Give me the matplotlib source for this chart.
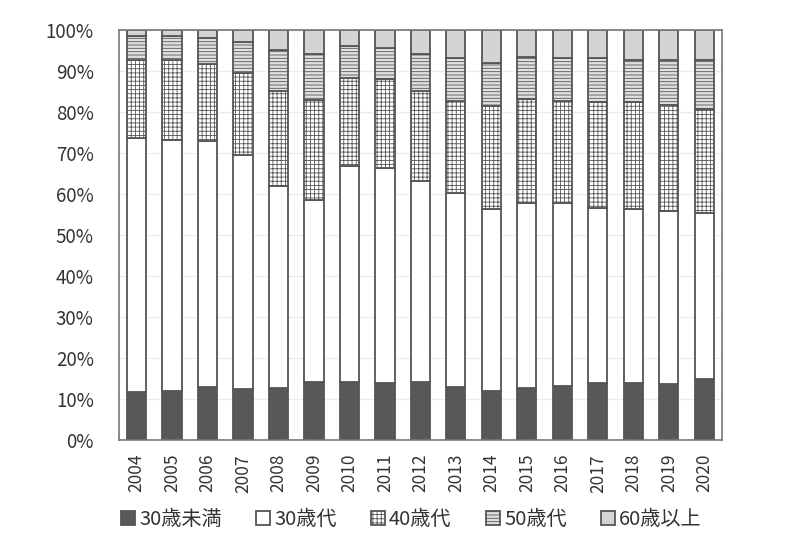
import matplotlib
matplotlib.use('Agg')
import numpy as np
import matplotlib.pyplot as plt
from matplotlib.ticker import PercentFormatter

plt.rcParams['font.family'] = ['Noto Sans CJK JP', 'DejaVu Sans']
plt.rcParams['hatch.linewidth'] = 0.6
plt.rcParams['hatch.color'] = '#8a8a8a'

# années et parts par tranche d'âge (%)
years = ['2004', '2005', '2006', '2007', '2008', '2009', '2010', '2011', '2012',
         '2013', '2014', '2015', '2016', '2017', '2018', '2019', '2020']
under30 = [11.8, 12.0, 13.0, 12.4, 12.8, 14.1, 14.2, 13.9, 14.1, 13.0, 12.0, 12.6, 13.3, 13.9, 13.9, 13.8, 15.0]
age30s = [62.0, 61.2, 60.0, 57.1, 49.2, 44.4, 52.7, 52.4, 49.2, 47.3, 44.4, 45.3, 44.6, 42.8, 42.5, 42.0, 40.3]
age40s = [18.9, 19.5, 18.7, 20.1, 23.1, 24.4, 21.5, 21.7, 21.9, 22.4, 25.2, 25.4, 24.9, 25.7, 26.0, 25.9, 25.4]
age50s = [5.8, 5.8, 6.3, 7.6, 10.0, 11.2, 7.8, 7.7, 8.9, 10.6, 10.5, 10.2, 10.5, 10.9, 10.4, 11.1, 12.0]
over60 = [1.5, 1.5, 2.0, 2.8, 4.9, 5.9, 3.8, 4.3, 5.9, 6.7, 7.9, 6.5, 6.7, 6.7, 7.2, 7.2, 7.3]
labels = ['30歳未満', '30歳代', '40歳代', '50歳代', '60歳以上']

series = [under30, age30s, age40s, age50s, over60]
colors = ['#585858', 'white', 'white', '#e0e0e0', '#d4d4d4']
hatches = [None, None, '++++', '-----', None]

fig = plt.figure(figsize=(7.97, 5.40), dpi=100)
ax = fig.add_axes([0.149, 0.185, 0.757, 0.759])

x = np.arange(len(years))
bottom = np.zeros(len(years))
for vals, c, h, lab in zip(series, colors, hatches, labels):
    ax.bar(x, vals, width=0.54, bottom=bottom, color=c, edgecolor='#555555',
           linewidth=1.3, hatch=h, label=lab, zorder=2)
    bottom += np.array(vals)

ax.set_ylim(0, 100)
ax.set_xlim(-0.5, len(years) - 0.5)
ax.set_yticks(np.arange(0, 101, 10))
ax.yaxis.set_major_formatter(PercentFormatter(decimals=0))
ax.set_xticks(x)
ax.set_xticklabels(years, rotation=90)
ax.tick_params(length=0, colors='#333333')
ax.tick_params(axis='y', labelsize=13.5, pad=18)
ax.tick_params(axis='x', labelsize=12.5, pad=10)
ax.grid(axis='y', color='#ececec', linewidth=0.8, zorder=0)
for s in ax.spines.values():
    s.set_color('#777777')
    s.set_linewidth(1.2)

ax.legend(loc='upper center', bbox_to_anchor=(0.485, -0.125), ncol=5, frameon=False,
          fontsize=14.5, handlelength=0.7, handleheight=0.7, handletextpad=0.2,
          columnspacing=1.7, labelcolor='#333333')

fig.savefig('out.png', dpi=100)
